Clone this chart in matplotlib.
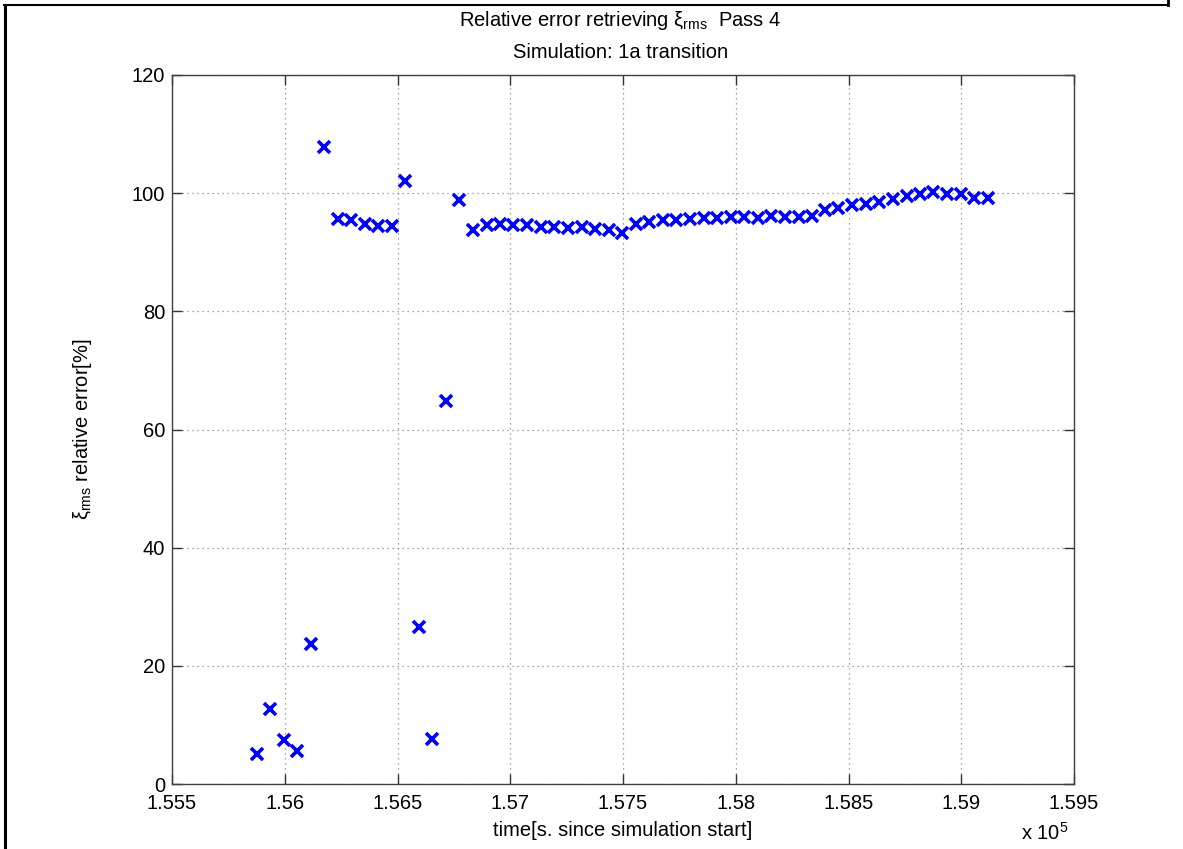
import numpy as np
import matplotlib.pyplot as plt
from matplotlib.lines import Line2D

plt.rcParams['font.family'] = ['Liberation Sans', 'DejaVu Sans']
plt.rcParams['mathtext.fontset'] = 'custom'
plt.rcParams['mathtext.rm'] = 'Liberation Sans'

# time [s since simulation start]
time_s = [155877, 155935, 155997, 156054, 156116, 156174, 156236, 156294,
          156356, 156414, 156476, 156533, 156595, 156653, 156715, 156774,
          156833, 156896, 156955, 157014, 157076, 157135, 157195, 157256,
          157317, 157376, 157437, 157497, 157556, 157615, 157676, 157736,
          157797, 157858, 157917, 157978, 158037, 158099, 158158, 158218,
          158279, 158338, 158396, 158455, 158517, 158576, 158637, 158697,
          158758, 158817, 158876, 158935, 158998, 159057, 159117]
# xi_rms relative error [%]
rel_err = [5.1, 12.7, 7.5, 5.6, 23.7, 107.8, 95.6, 95.4,
           94.7, 94.4, 94.4, 102.0, 26.6, 7.6, 64.9, 98.8,
           93.8, 94.6, 94.7, 94.6, 94.6, 94.3, 94.2, 94.1,
           94.2, 93.9, 93.7, 93.3, 94.7, 95.1, 95.4, 95.5,
           95.6, 95.8, 95.8, 96.0, 95.9, 95.8, 96.1, 95.9,
           95.9, 96.2, 97.2, 97.5, 98.0, 98.1, 98.5, 99.0,
           99.5, 99.9, 100.2, 99.8, 99.9, 99.2, 99.2]

xticks = [1.555, 1.56, 1.565, 1.57, 1.575, 1.58, 1.585, 1.59, 1.595]
yticks = [0, 20, 40, 60, 80, 100, 120]

fig = plt.figure(figsize=(11.83, 8.49), dpi=100)
ax = fig.add_axes([172 / 1183, 1 - 784 / 849, (1074 - 172) / 1183, (784 - 75) / 849])

x = np.array(time_s) / 1e5
ax.plot(x, rel_err, linestyle='none', marker='x', color='#0000ff',
        markersize=8, markeredgewidth=2.6)

ax.set_xlim(1.555, 1.595)
ax.set_ylim(0, 120)
ax.set_xticks(xticks)
ax.set_xticklabels([f'{t:g}' for t in xticks])
ax.set_yticks(yticks)
ax.tick_params(direction='in', length=7, width=1, colors='#333333',
               labelcolor='black', labelsize=14.5, top=True, right=True)
ax.tick_params(axis='x', pad=7)
ax.tick_params(axis='y', pad=5)
ax.grid(True, linestyle=(0, (1, 3)), color='#888888', linewidth=0.9)
for s in ax.spines.values():
    s.set_color('#404040')
    s.set_linewidth(1.0)

ax.set_xlabel('time[s. since simulation start]', fontsize=14.5, labelpad=6)
ax.set_ylabel(r'$\mathregular{ξ_{rms}}$ relative error[%]', fontsize=14.5, labelpad=27)

fig.text(0.5245, 1 - 21 / 849, r'Relative error retrieving $\mathregular{ξ_{rms}}$  Pass 4',
         ha='center', va='center', fontsize=14.5)
fig.text(0.5245, 1 - 53 / 849, 'Simulation: 1a transition',
         ha='center', va='center', fontsize=14.5)
fig.text(1045 / 1183, 1 - 833 / 849, r'x 10$^{\mathregular{5}}$',
         ha='center', va='center', fontsize=14.5)

# page frame
fig.add_artist(Line2D([5 / 1183, 5 / 1183], [0, 1 - 5 / 849], color='black', linewidth=2.2))
fig.add_artist(Line2D([4 / 1183, 1168 / 1183], [1 - 5 / 849, 1 - 5 / 849], color='black', linewidth=1.5))
fig.add_artist(Line2D([1168 / 1183, 1168 / 1183], [1 - 5 / 849, 1], color='black', linewidth=2.0))

fig.savefig('out.png', dpi=100)
